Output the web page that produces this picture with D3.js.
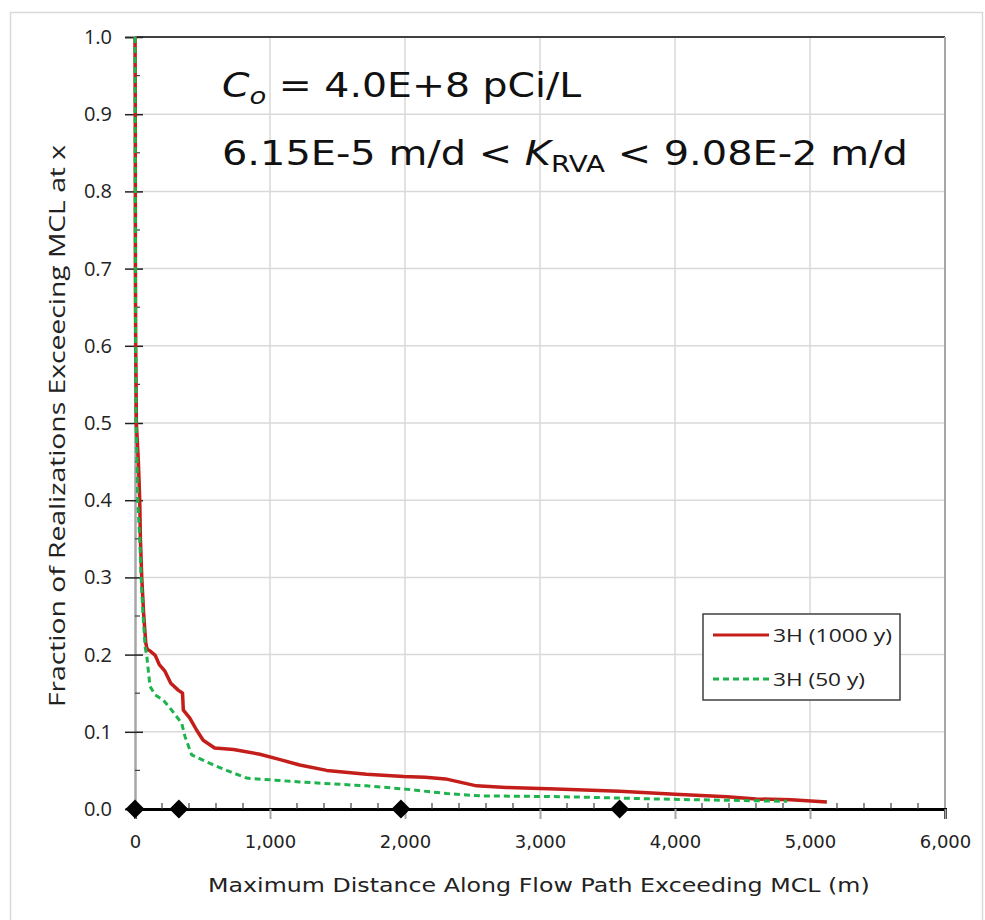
<!DOCTYPE html>
<html><head><meta charset="utf-8">
<script src="https://cdn.jsdelivr.net/npm/d3@7"></script>
<style>body{margin:0;background:#fff}svg{display:block}</style>
</head><body>
<svg id="c" width="985" height="920"></svg>
<script>
// ---- data ----
const xTicks = [0, 1000, 2000, 3000, 4000, 5000, 6000];
const yTicks = [0.0, 0.1, 0.2, 0.3, 0.4, 0.5, 0.6, 0.7, 0.8, 0.9, 1.0];
const seriesNames = ["3H (1000 y)", "3H (50 y)"];
const red1000Dist = [0,2,3,5,8,10,25,35,40,50,65,80,90,110,150,180,220,265,320,352,358,405,457,505,590,730,925,1075,1220,1420,1716,1990,2150,2300,2530,2750,3120,3590,4000,4385,4600,4860,5125];
const red1000Frac = [1.0,0.9,0.7,0.6,0.55,0.5,0.45,0.4,0.35,0.3,0.25,0.215,0.207,0.205,0.199,0.187,0.179,0.163,0.154,0.150,0.128,0.118,0.102,0.089,0.079,0.077,0.071,0.064,0.057,0.050,0.045,0.042,0.041,0.039,0.030,0.028,0.026,0.023,0.019,0.016,0.013,0.012,0.009];
const green50Dist = [0,2,4,8,15,20,35,45,60,75,88,111,148,210,272,346,370,420,556,680,827,1220,1716,1990,2310,2556,3150,3990,4830];
const green50Frac = [1.0,0.8,0.6,0.5,0.45,0.4,0.35,0.3,0.25,0.21,0.197,0.159,0.148,0.141,0.128,0.111,0.094,0.070,0.059,0.050,0.040,0.035,0.030,0.026,0.020,0.017,0.016,0.0125,0.010];
const markerDist = [0, 325, 1970, 3590];
const markerFrac = [0, 0, 0, 0];

const svg = d3.select("#c");
const L = 135, R = 945, T = 37, B = 809;
const x = d3.scaleLinear().domain([0, 6000]).range([L, R]);
const y = d3.scaleLinear().domain([0, 1]).range([B, T]);
const RED = "#c41e1a", GREEN = "#1fb34e";

// stretch a text element horizontally (about anchor) to a target width
function fitWidth(sel, ax, ay, target, rotated) {
  const w = sel.node().getBBox().width;
  const k = target / w;
  if (rotated) {
    sel.attr("transform", `translate(${ax},${ay}) rotate(-90) scale(${k},1)`);
  } else {
    sel.attr("transform", `translate(${ax},${ay}) scale(${k},1) translate(${-ax},${-ay})`);
  }
}

// outer frame
svg.append("rect").attr("x", 10.5).attr("y", 12.5).attr("width", 972).attr("height", 930)
  .attr("fill", "#fff").attr("stroke", "#d9d9d9").attr("stroke-width", 1.5);

// gridlines
svg.append("g").selectAll("line").data(yTicks.slice(1)).join("line")
  .attr("x1", L).attr("x2", R).attr("y1", d => y(d)).attr("y2", d => y(d))
  .attr("stroke", "#d9d9d9").attr("stroke-width", 1.5);
svg.append("g").selectAll("line").data(xTicks.slice(1)).join("line")
  .attr("x1", d => x(d)).attr("x2", d => x(d)).attr("y1", T).attr("y2", B)
  .attr("stroke", "#d9d9d9").attr("stroke-width", 1.5);

// plot border top/right
svg.append("line").attr("x1", L).attr("x2", R).attr("y1", T).attr("y2", T).attr("stroke", "#404040").attr("stroke-width", 2);
svg.append("line").attr("x1", R).attr("x2", R).attr("y1", T).attr("y2", B).attr("stroke", "#a6a6a6").attr("stroke-width", 2);

// y axis
const yAxis = d3.axisLeft(y).tickValues(yTicks).tickFormat(d3.format(".1f")).tickSize(10).tickPadding(13);
const gy = svg.append("g").attr("transform", `translate(${L},0)`).call(yAxis);
gy.select(".domain").attr("stroke", "#a6a6a6").attr("stroke-width", 2.5);
gy.selectAll(".tick line").attr("stroke", "#222").attr("stroke-width", 1.5).attr("x2", 8).attr("x1", -10);
gy.selectAll("text").attr("font-family", "'Open Sans', sans-serif").attr("font-size", 20).attr("fill", "#222");
// y minor ticks
const yMinor = d3.range(0.05, 1, 0.1);
svg.append("g").selectAll("line").data(yMinor).join("line")
  .attr("x1", L).attr("x2", L + 5).attr("y1", d => y(d)).attr("y2", d => y(d))
  .attr("stroke", "#404040").attr("stroke-width", 1.2);

// x axis
const xAxis = d3.axisBottom(x).tickValues(xTicks).tickFormat(d3.format(",")).tickSize(10).tickPadding(16);
const gx = svg.append("g").attr("transform", `translate(0,${B})`).call(xAxis);
gx.select(".domain").attr("stroke", "#000").attr("stroke-width", 3);
gx.selectAll(".tick line").attr("stroke", "#a6a6a6").attr("stroke-width", 2);
gx.selectAll("text").attr("font-family", "'DejaVu Sans', Verdana, sans-serif").attr("font-size", 18).attr("fill", "#222");
// x minor ticks
const xMinor = d3.range(200, 6000, 200).filter(d => d % 1000 !== 0);
svg.append("g").selectAll("line").data(xMinor).join("line")
  .attr("x1", d => x(d)).attr("x2", d => x(d)).attr("y1", B - 6).attr("y2", B)
  .attr("stroke", "#404040").attr("stroke-width", 1.2);

// lines
const line = d3.line().x(d => x(d[0])).y(d => y(d[1]));
const redData = d3.zip(red1000Dist, red1000Frac);
const greenData = d3.zip(green50Dist, green50Frac);
svg.append("path").datum(redData).attr("d", line).attr("fill", "none")
  .attr("stroke", RED).attr("stroke-width", 3.5).attr("stroke-linejoin", "round");
svg.append("path").datum(greenData).attr("d", line).attr("fill", "none")
  .attr("stroke", GREEN).attr("stroke-width", 3).attr("stroke-dasharray", "6,4");

// markers
svg.append("g").selectAll("path").data(d3.zip(markerDist, markerFrac)).join("path")
  .attr("d", d3.symbol(d3.symbolDiamond2, 230))
  .attr("transform", d => `translate(${x(d[0])},${y(d[1])})`)
  .attr("fill", "#000");

// axis titles
const xt = svg.append("text").attr("x", 208).attr("y", 892)
  .attr("font-family", "'DejaVu Sans', Verdana, sans-serif").attr("font-size", 20).attr("fill", "#222")
  .text("Maximum Distance Along Flow Path Exceeding MCL (m)");
fitWidth(xt, 208, 892, 662);
const yt = svg.append("text").attr("x", 0).attr("y", 0).attr("text-anchor", "middle")
  .attr("font-family", "'Open Sans', sans-serif").attr("font-size", 22).attr("fill", "#222")
  .text("Fraction of Realizations Exceecing MCL at x");
fitWidth(yt, 65, 426, 563, true);

// annotation text
const ff = "'DejaVu Sans', Verdana, sans-serif";
const t1 = svg.append("text").attr("x", 222).attr("y", 97).attr("font-family", ff).attr("font-size", 33).attr("fill", "#111");
t1.append("tspan").attr("font-style", "italic").text("C");
t1.append("tspan").attr("font-style", "italic").attr("font-size", 23).attr("dy", 7).text("o");
t1.append("tspan").attr("dy", -7).text(" = 4.0E+8 pCi/L");
fitWidth(t1, 222, 97, 360);
const t2 = svg.append("text").attr("x", 222).attr("y", 165).attr("font-family", ff).attr("font-size", 33).attr("fill", "#111");
t2.append("tspan").text("6.15E-5 m/d < ");
t2.append("tspan").attr("font-style", "italic").text("K");
t2.append("tspan").attr("font-size", 23).attr("dy", 7).text("RVA");
t2.append("tspan").attr("dy", -7).text(" < 9.08E-2 m/d");
fitWidth(t2, 222, 165, 686);

// legend
const lg = svg.append("g");
lg.append("rect").attr("x", 703).attr("y", 614).attr("width", 197).attr("height", 86)
  .attr("fill", "#fff").attr("stroke", "#404040").attr("stroke-width", 1.5);
const items = [{c: RED, dash: null, w: 119}, {c: GREEN, dash: "6,4", w: 92}];
items.forEach((it, i) => {
  const yy = 635 + i * 44;
  lg.append("line").attr("x1", 713).attr("x2", 769).attr("y1", yy).attr("y2", yy)
    .attr("stroke", it.c).attr("stroke-width", 3).attr("stroke-dasharray", it.dash);
  const tx = lg.append("text").attr("x", 773).attr("y", yy + 7).attr("font-family", "'Open Sans', sans-serif")
    .attr("font-size", 18).attr("fill", "#222").text(seriesNames[i]);
  fitWidth(tx, 773, yy + 7, it.w);
});
</script>
</body></html>
